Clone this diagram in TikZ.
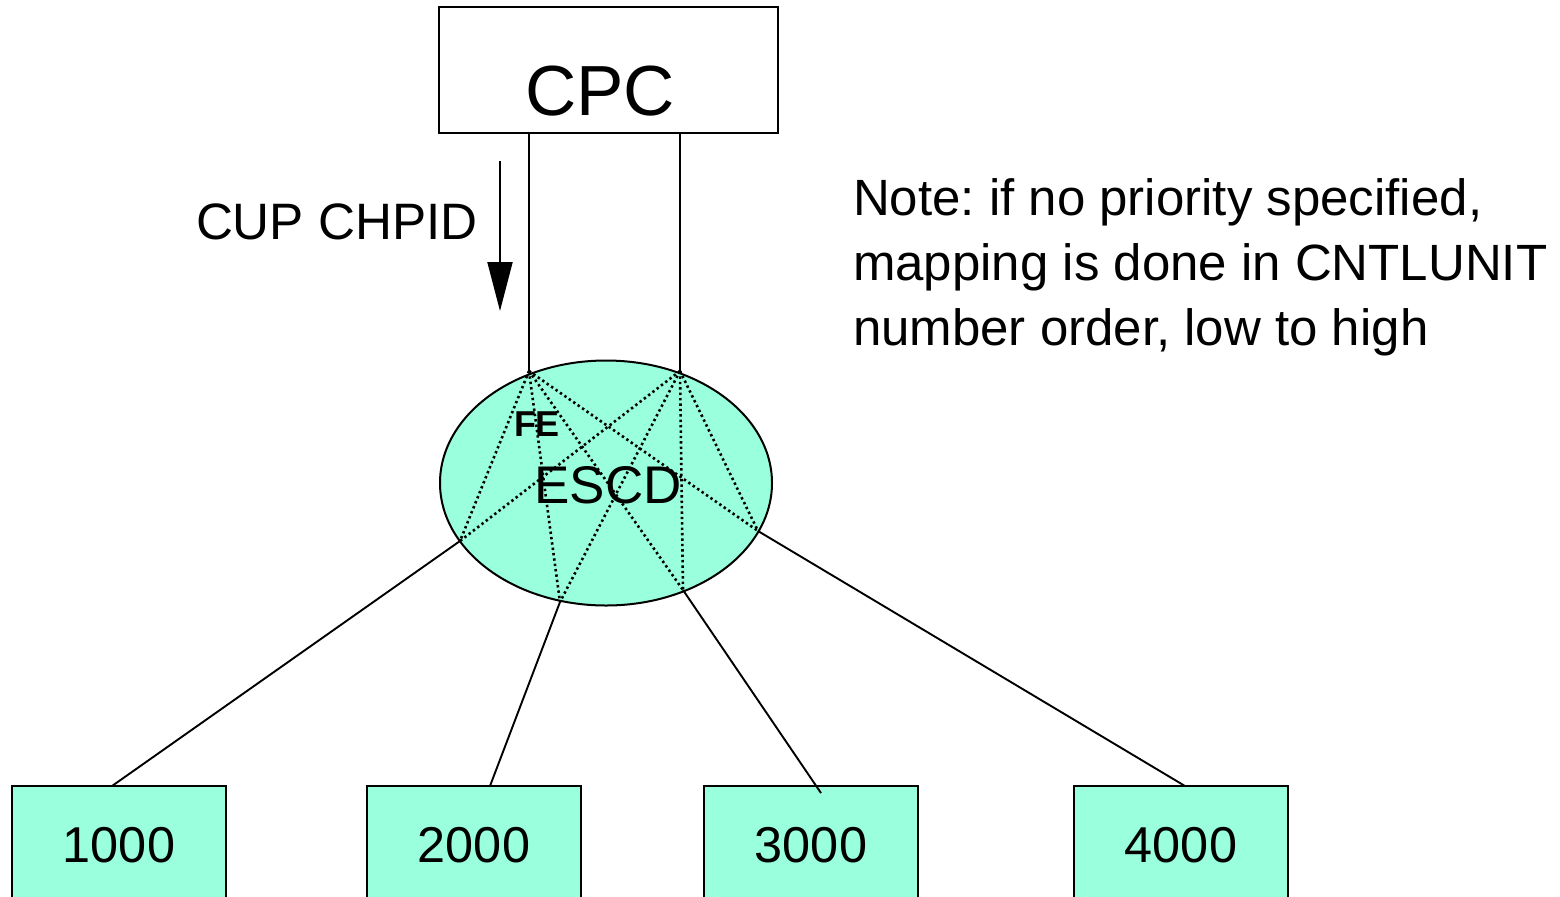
\documentclass[tikz,border=0pt]{standalone}
\usepackage{fontspec}
\setmainfont{Liberation Sans}
\usetikzlibrary{shapes.geometric,arrows.meta}
\definecolor{aqua}{RGB}{153,255,221}
\frenchspacing
\tikzset{
  box/.style={draw=black, line width=1pt, outer sep=0pt, inner sep=0pt, anchor=north west},
  unitbox/.style={box, fill=aqua, minimum width=107pt, minimum height=59pt, font=\fontsize{25.2pt}{30pt}\selectfont},
  wire/.style={line width=0.95pt},
  fab/.style={line width=1.3pt, dash pattern=on 1.2pt off 1.5pt},
  lbl/.style={inner sep=0pt, outer sep=0pt}
}
\begin{document}
\begin{tikzpicture}[x=0.5pt,y=-0.5pt]
\useasboundingbox (0,0) rectangle (1560,896);
\clip (0,0) rectangle (1560,896);
% CPC
\node[box, minimum width=169.5pt, minimum height=63pt] (cpc) at (439,7) {};
\node[lbl, font=\fontsize{35.5pt}{40pt}\selectfont] (cpclbl) at (600,91) {CPC};
% ESCD
\node[draw=black, line width=1pt, fill=aqua, ellipse, minimum width=166pt, minimum height=122.5pt, inner sep=0pt, outer sep=0pt] (escd) at (606,483) {};
\coordinate (A) at (529,371);
\coordinate (B) at (680,371);
\coordinate (P1) at (460,541);
\coordinate (P2) at (560,602);
\coordinate (P3) at (683,590);
\coordinate (P4) at (758,531);
% channels
\draw[wire] (A |- cpc.south) -- (A);
\draw[wire] (B |- cpc.south) -- (B);
% arrow
\coordinate (ar1) at (500,161);
\coordinate (ar2) at (500,311);
\draw[wire, -{Triangle[length=24.5pt,width=12.5pt]}] (ar1) -- (ar2);
\node[lbl, anchor=west, font=\fontsize{25.6pt}{30pt}\selectfont] (cup) at (196,222) {CUP CHPID};
% fabric dotted
\foreach \s in {A,B}{
  \foreach \t in {P1,P2,P3,P4}{
    \draw[fab] (\s) -- (\t);
  }
}
\node[lbl, font=\fontsize{26.5pt}{30pt}\selectfont] (escdlbl) at (608,485) {ESCD};
\node[lbl, font=\bfseries\fontsize{18pt}{22pt}\selectfont] (fe) at (537,424) {FE};
% control units
\node[unitbox] (u1) at (12,786) {1000};
\node[unitbox] (u2) at (367,786) {2000};
\node[unitbox] (u3) at (704,786) {3000};
\node[unitbox] (u4) at (1074,786) {4000};
\draw[wire] (P1) -- (u1.north -| 112,0);
\draw[wire] (P2) -- (u2.north -| 490,0);
\coordinate (e3) at (821,793);
\draw[wire] (P3) -- (e3);
\draw[wire] (P4) -- (u4.north -| 1185,0);
% note
\node[lbl, anchor=north west, align=left, font=\fontsize{25.5pt}{32.5pt}\selectfont] (note) at (853,179) {Note: if no priority specified,\\mapping is done in CNTLUNIT\\number order, low to high};
\end{tikzpicture}
\end{document}
